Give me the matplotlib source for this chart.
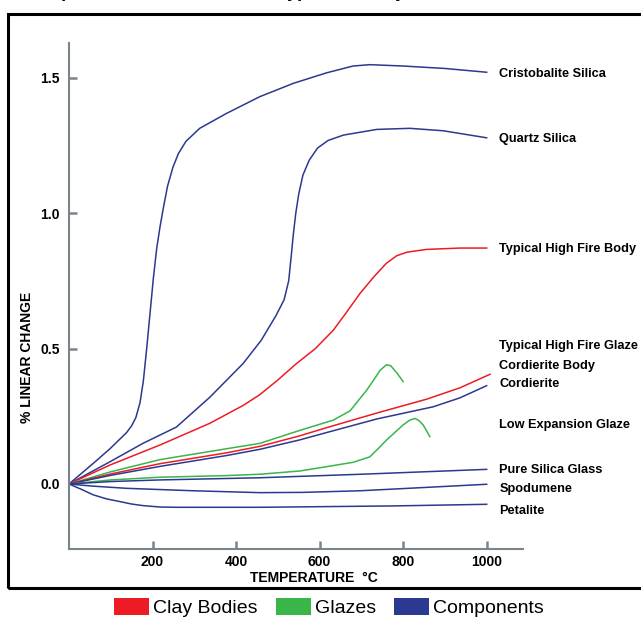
import matplotlib
matplotlib.use('Agg')
import matplotlib.pyplot as plt
from matplotlib.patches import Patch, Rectangle

plt.rcParams['font.family'] = ['Liberation Sans', 'DejaVu Sans']

# colours
RED = '#ED1C24'
GREEN = '#39B54A'
BLUE = '#2B3990'
AXIS_GREY = '#7A858B'

# curves: temperature (C) and % linear change
cristobalite_t = [0, 58, 98, 138, 150, 160, 170, 178, 186, 194, 202, 210, 218, 226, 236, 249, 262, 280,
                  313, 377, 457, 537, 617, 680, 720, 800, 900, 1000]
cristobalite_v = [0, .076, .13, .19, .215, .245, .30, .38, .50, .63, .76, .87, .95, 1.02, 1.10, 1.17, 1.22, 1.265,
                  1.313, 1.368, 1.43, 1.479, 1.518, 1.543, 1.548, 1.543, 1.534, 1.52]

quartz_t = [0, 98, 177, 257, 337, 417, 460, 495, 515, 526, 532, 537, 543, 550, 560, 575, 595, 620,
            657, 737, 816, 896, 1000]
quartz_v = [0, .082, .15, .21, .32, .445, .53, .62, .68, .75, .84, .92, 1.0, 1.07, 1.14, 1.195, 1.24, 1.268,
            1.288, 1.309, 1.313, 1.304, 1.278]

hf_body_t = [0, 98, 218, 337, 417, 457, 497, 545, 590, 633, 665, 697, 730, 760, 785, 810, 856, 936, 1000]
hf_body_v = [0, .07, .144, .224, .29, .33, .38, .445, .50, .568, .635, .704, .765, .815, .843, .856, .866, .871, .871]

hf_glaze_t = [0, 100, 218, 377, 457, 553, 633, 673, 713, 730, 745, 760, 770, 785, 800]
hf_glaze_v = [0, .045, .09, .13, .15, .198, .236, .27, .347, .385, .42, .44, .437, .41, .378]

cord_body_t = [0, 100, 218, 377, 457, 553, 617, 737, 856, 936, 1008]
cord_body_v = [0, .037, .075, .115, .139, .178, .208, .262, .313, .355, .405]

cordierite_t = [0, 100, 218, 377, 457, 553, 617, 737, 872, 936, 1000]
cordierite_v = [0, .032, .065, .105, .128, .163, .19, .24, .285, .318, .363]

low_glaze_t = [0, 100, 218, 377, 457, 553, 617, 680, 720, 740, 760, 780, 800, 815, 828, 838, 848, 864]
low_glaze_v = [0, .015, .025, .031, .036, .048, .064, .08, .10, .13, .162, .19, .218, .235, .242, .234, .218, .175]

silica_glass_t = [0, 100, 218, 457, 700, 1000]
silica_glass_v = [0, .009, .015, .023, .036, .054]

spodumene_t = [0, 58, 138, 297, 457, 560, 697, 850, 1000]
spodumene_v = [0, -.008, -.016, -.025, -.032, -.031, -.025, -.013, -.001]

petalite_t = [0, 30, 58, 90, 122, 150, 178, 218, 257, 457, 776, 1000]
petalite_v = [0, -.02, -.04, -.055, -.065, -.074, -.08, -.085, -.086, -.086, -.081, -.075]

curve_labels = ['Cristobalite Silica', 'Quartz Silica', 'Typical High Fire Body',
                'Typical High Fire Glaze', 'Cordierite Body', 'Cordierite',
                'Low Expansion Glaze', 'Pure Silica Glass', 'Spodumene', 'Petalite']
label_y = [1.513, 1.274, 0.867, 0.509, 0.436, 0.369, 0.218, 0.052, -0.018, -0.10]

x_ticks = [200, 400, 600, 800, 1000]
y_ticks = [0.0, 0.5, 1.0, 1.5]
y_tick_labels = ['0.0', '0.5', '1.0', '1.5']

legend_names = ['Clay Bodies', 'Glazes', 'Components']
legend_colors = [RED, GREEN, BLUE]

W, H = 641, 618
fig = plt.figure(figsize=(W / 100, H / 100), dpi=100)
ax = fig.add_axes([69 / W, 69 / H, 454 / W, 506 / H])

series = [
    (cristobalite_t, cristobalite_v, BLUE),
    (quartz_t, quartz_v, BLUE),
    (hf_body_t, hf_body_v, RED),
    (hf_glaze_t, hf_glaze_v, GREEN),
    (cord_body_t, cord_body_v, RED),
    (cordierite_t, cordierite_v, BLUE),
    (low_glaze_t, low_glaze_v, GREEN),
    (silica_glass_t, silica_glass_v, BLUE),
    (spodumene_t, spodumene_v, BLUE),
    (petalite_t, petalite_v, BLUE),
]
for t, v, c in series:
    ax.plot(t, v, color=c, lw=1.1, solid_joinstyle='round')

for name, y in zip(curve_labels, label_y):
    ax.text(1030, y, name, fontsize=9.2, fontweight='bold', va='center', ha='left', clip_on=False)

ax.set_xlim(0, 1087)
ax.set_ylim(-0.24, 1.628)

for s in ['top', 'right']:
    ax.spines[s].set_visible(False)
for s in ['left', 'bottom']:
    ax.spines[s].set_color(AXIS_GREY)
    ax.spines[s].set_linewidth(1.5)

ax.set_xticks(x_ticks)
ax.set_yticks(y_ticks)
ax.set_yticklabels(y_tick_labels)
ax.tick_params(direction='in', length=6, width=1.8, color=AXIS_GREY, labelsize=10)
ax.tick_params(axis='y', pad=6.5)
ax.tick_params(axis='x', pad=4.3)
ax.yaxis.get_major_ticks()[0].tick1line.set_visible(False)
for lbl in ax.get_xticklabels() + ax.get_yticklabels():
    lbl.set_fontweight('bold')

ax.set_xlabel('TEMPERATURE  °C', fontsize=10, fontweight='bold', va='center')
ax.xaxis.set_label_coords(0.54, -0.057)
ax.set_ylabel('% LINEAR CHANGE', fontsize=10, fontweight='bold', va='center')
ax.yaxis.set_label_coords(-0.0925, 0.379)

# outer frame, partly cut off on the right
fig.add_artist(Rectangle((8 / W, 30 / H), 1.0, 574 / H, transform=fig.transFigure,
                         fill=False, lw=2.2, ec='black'))

# title sits above the visible area, only its descenders show
fig.text(39 / W, 1 + 3 / H, 'Expansion Curves of Some Typical Pottery Materials',
         fontsize=13, fontweight='bold', va='baseline', ha='left')

handles = [Patch(facecolor=c, edgecolor='none', label=n) for n, c in zip(legend_names, legend_colors)]
fig.legend(handles=handles, loc='center', bbox_to_anchor=(329 / W, 10.5 / H), ncol=3,
           frameon=False, fontsize=14, handlelength=1.8, handleheight=0.98,
           handletextpad=0.2, columnspacing=0.95, borderpad=0)

fig.savefig('out.png', dpi=100)
